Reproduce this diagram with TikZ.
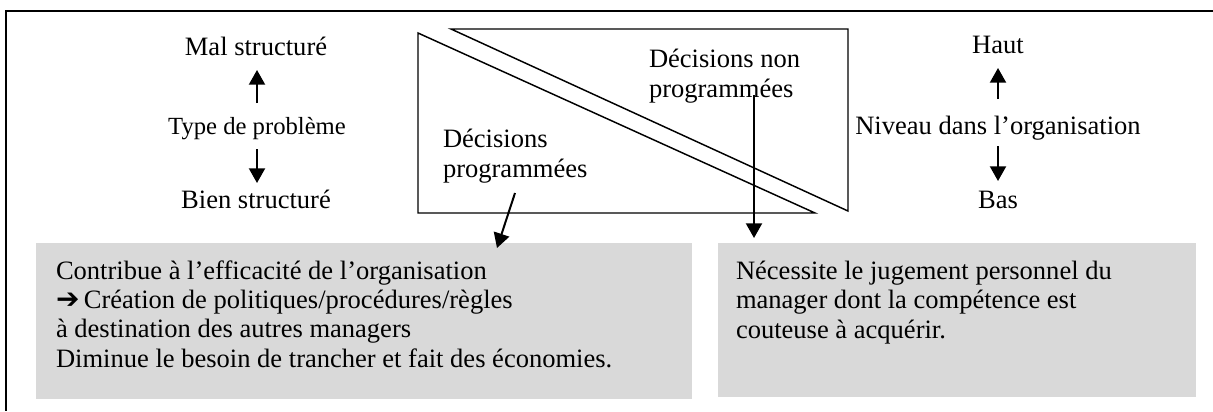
\documentclass[tikz,border=0pt]{standalone}
\usepackage{fontspec}
\setmainfont{Liberation Serif}
\newfontfamily\symfont{DejaVu Sans}
\usetikzlibrary{arrows.meta}
\definecolor{boxgray}{RGB}{217,217,217}
\begin{document}
\begin{tikzpicture}[x=0.75pt,y=-0.75pt,
  txt/.style={font=\fontsize{19.9pt}{22pt}\selectfont, inner sep=0pt, outer sep=0pt},
  smalltxt/.style={font=\fontsize{18.5pt}{22pt}\selectfont, inner sep=0pt, outer sep=0pt},
  multitxt/.style={txt, align=left, anchor=base west},
  arr/.style={line width=1.5pt, -{Triangle[width=12pt,length=11pt]}},
  tri/.style={line width=1.1pt, line join=miter},
  graybox/.style={fill=boxgray, draw=none, inner sep=0pt, outer sep=0pt},
  frame/.style={line width=1.5pt}]
\useasboundingbox (0,0) rectangle (1213,411);
% frame (top and left)
\coordinate (ftl) at (6,10.5);
\coordinate (ftr) at (1213,10.5);
\coordinate (fbl) at (6,411);
\draw[frame] (ftr) -- (ftl) -- (fbl);
% gray boxes
\node[graybox, minimum width=492pt, minimum height=117pt] (lbox) at (364,321) {};
\node[graybox, minimum width=358.5pt, minimum height=115.5pt] (rbox) at (957,320) {};
% triangles
\coordinate (t1a) at (418,33);
\coordinate (t1b) at (418,213);
\coordinate (t1c) at (815,213);
\draw[tri] (t1a) -- (t1b) -- (t1c) -- cycle;
\coordinate (t2a) at (451,29);
\coordinate (t2b) at (848,29);
\coordinate (t2c) at (848,211);
\draw[tri] (t2a) -- (t2b) -- (t2c) -- cycle;
% triangle labels (anchor = baseline of last line)
\node[multitxt] (dnp) at (649,97) {Décisions non\\programmées};
\node[multitxt] (dp) at (443,177) {Décisions\\programmées};
% left scale
\node[txt, anchor=base] (mal) at (256,55) {Mal structuré};
\node[smalltxt, anchor=base] (type) at (257,134) {Type de problème};
\node[txt, anchor=base] (bien) at (256,208) {Bien structuré};
\coordinate (lu1) at (257,103);
\coordinate (lu2) at (257,70);
\coordinate (ld1) at (257,149);
\coordinate (ld2) at (257,183);
\draw[arr] (lu1) -- (lu2);
\draw[arr] (ld1) -- (ld2);
% right scale
\node[txt, anchor=base] (haut) at (998,53) {Haut};
\node[txt, anchor=base] (niv) at (998,134) {Niveau dans l’organisation};
\node[txt, anchor=base] (bas) at (998,208) {Bas};
\coordinate (ru1) at (998,99);
\coordinate (ru2) at (998,68);
\coordinate (rd1) at (998,146);
\coordinate (rd2) at (998,181);
\draw[arr] (ru1) -- (ru2);
\draw[arr] (rd1) -- (rd2);
% connectors to boxes
\coordinate (a1s) at (515,193);
\coordinate (a1e) at (497,248);
\draw[arr] (a1s) -- (a1e);
\coordinate (a2s) at (754,95);
\coordinate (a2e) at (754,238);
\draw[arr] (a2s) -- (a2e);
% box texts (anchor = baseline of last line)
\node[multitxt] (ltxt) at (56,367) {Contribue à l’efficacité de l’organisation\\
{\symfont\bfseries\fontsize{21pt}{22pt}\selectfont ➔}\,Création de politiques/procédures/règles\\
à destination des autres managers\\
Diminue le besoin de trancher et fait des économies.};
\node[multitxt] (rtxt) at (736,338) {Nécessite le jugement personnel du\\
manager dont la compétence est\\
couteuse à acquérir.};
\end{tikzpicture}
\end{document}
